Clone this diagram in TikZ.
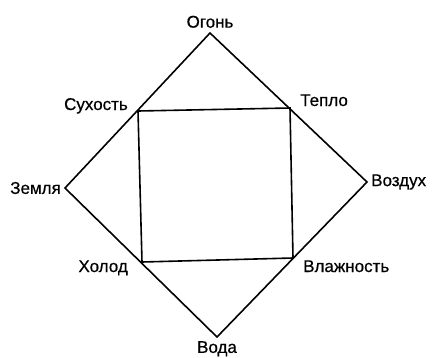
\documentclass[tikz,border=0pt]{standalone}
\usepackage{fontspec}
\setmainfont{Liberation Sans}[FakeBold=0.6]
\usetikzlibrary{positioning}

\begin{document}
\begin{tikzpicture}[
    x=1pt, y=-1pt,
    elem/.style={inner sep=0pt, font=\fontsize{17}{20}\selectfont},
    quality/.style={inner sep=0pt, font=\fontsize{17}{20}\selectfont},
    edge/.style={line width=1.6pt, line join=miter}
]
\useasboundingbox (0,0) rectangle (433,357);

% Elements (outer diamond)
\coordinate (fire)  at (210,33);
\coordinate (air)   at (367,182);
\coordinate (water) at (217,337);
\coordinate (earth) at (65,188);

% Qualities (inner square)
\coordinate (dry)   at (138,111);
\coordinate (warm)  at (290,108);
\coordinate (moist) at (293,258);
\coordinate (cold)  at (142,262);

% Labels
\node (firelbl)  [elem, above=5pt of fire] {Огонь};
\node (airlbl)   [elem, right=4pt of air] {Воздух};
\node (waterlbl) [elem, below=4pt of water] {Вода};
\node (earthlbl) [elem, left=4pt of earth] {Земля};
\node (drylbl)   [quality, anchor=base east] at (128,110) {Сухость};
\node (warmlbl)  [quality, anchor=base west] at (300,106) {Тепло};
\node (moistlbl) [quality, anchor=base west] at (303,272) {Влажность};
\node (coldlbl)  [quality, anchor=base east] at (128,272) {Холод};

% Connections
\draw [edge] (fire) -- (air) -- (water) -- (earth) -- cycle;
\draw [edge] (dry) -- (warm) -- (moist) -- (cold) -- cycle;

\end{tikzpicture}
\end{document}
